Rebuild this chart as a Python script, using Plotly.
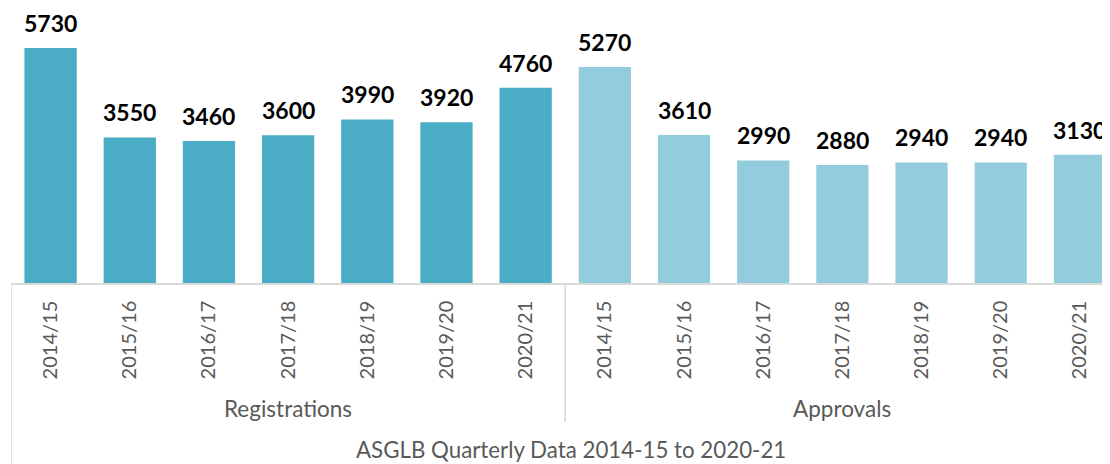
import plotly.graph_objects as go

groups = ["Registrations"] * 7 + ["Approvals"] * 7
years = ["2014/15", "2015/16", "2016/17", "2017/18", "2018/19", "2019/20", "2020/21"] * 2
values = [5730, 3550, 3460, 3600, 3990, 3920, 4760,
          5270, 3610, 2990, 2880, 2940, 2940, 3130]
group_colors = {"Registrations": "#4BACC6", "Approvals": "#93CDDD"}
footer = "ASGLB Quarterly Data 2014-15 to 2020-21"

FONT = "Lato"
idx = list(range(len(values)))

fig = go.Figure()
fig.add_trace(go.Bar(
    x=idx, y=values,
    marker=dict(color=[group_colors[g] for g in groups], line=dict(width=0)),
    width=0.66, hoverinfo="x+y",
))

# data labels
for i, v in zip(idx, values):
    fig.add_annotation(x=i, y=v, xref="x", yref="y", text=f"<b>{v}</b>",
                       showarrow=False, yanchor="bottom", yshift=10, borderpad=0,
                       font=dict(family=FONT, size=23, color="#000000"))

# group labels and dividers
line_col = "#D9D9D9"
unique_groups = list(dict.fromkeys(groups))
for g in unique_groups:
    members = [i for i, gg in enumerate(groups) if gg == g]
    center = sum(members) / len(members)
    fig.add_annotation(x=center, y=-0.458, xref="x", yref="paper", text=g,
                       showarrow=False, yanchor="middle",
                       font=dict(family=FONT, size=22.5, color="#595959"))
    start = members[0] - 0.5
    if start > -0.5:
        fig.add_shape(type="line", xref="x", yref="paper", x0=start, x1=start,
                      y0=0, y1=-0.505, line=dict(color=line_col, width=1.5))

# outer left edge (spans to bottom)
fig.add_shape(type="line", xref="x", yref="paper", x0=-0.5, x1=-0.5,
              y0=0, y1=-0.66, line=dict(color=line_col, width=1.5))

fig.add_annotation(x=0.510, y=-0.607, xref="paper", yref="paper", text=footer,
                   showarrow=False, yanchor="middle",
                   font=dict(family=FONT, size=22.3, color="#595959"))

fig.update_layout(
    width=1102, height=456,
    margin=dict(l=3, r=0, t=0, b=181),
    paper_bgcolor="white", plot_bgcolor="white",
    showlegend=False,
    bargap=0.34,
    xaxis=dict(
        range=[-0.5, 13.38],
        tickmode="array", tickvals=idx, ticktext=years,
        tickangle=-90, ticks="", showgrid=False, zeroline=False,
        showline=True, linecolor=line_col, linewidth=1.5,
        tickfont=dict(family=FONT, size=20, color="#595959"),
        ticklabelstandoff=8,
    ),
    yaxis=dict(range=[0, 6706], visible=False, showgrid=False),
)

fig.write_html("out.html")
